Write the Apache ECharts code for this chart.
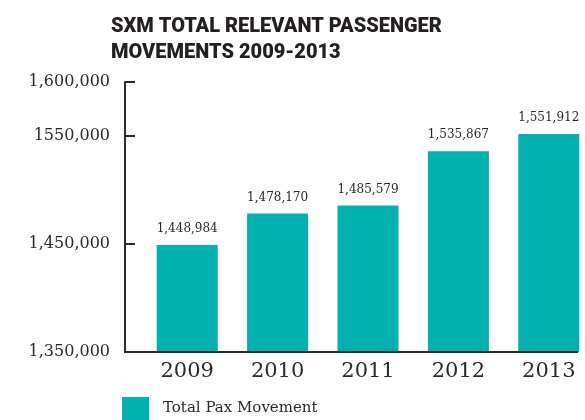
<!DOCTYPE html>
<html>
<head>
<meta charset="utf-8">
<script src="https://cdn.jsdelivr.net/npm/echarts@6/dist/echarts.min.js"></script>
<style>
  html, body { margin: 0; padding: 0; background: #fff; }
  #chart { width: 585px; height: 420px; }
</style>
</head>
<body>
<div id="chart"></div>
<script>
// Passenger movements per year
const years = ['2009', '2010', '2011', '2012', '2013'];
const paxMovements = [1448984, 1478170, 1485579, 1535867, 1551912];

// Y-axis labels as printed, keyed by value
const yTickValues = [1350000, 1450000, 1550000, 1600000];
const yTickLabels = ['1,350,000', '1,450,000', '1550,000', '1,600,000'];
const yTickMarks = [1450000, 1550000, 1600000];

const seriesName = 'Total Pax Movement';
const titleText = 'SXM TOTAL RELEVANT PASSENGER\nMOVEMENTS 2009-2013';

const TEAL = '#00b1ae';
const INK = '#2a2a2a';
const SERIF = '"DejaVu Serif", "Liberation Serif", serif';

const GRID_LEFT = 142, GRID_TOP = 82, GRID_BOTTOM = 68, GRID_WIDTH = 452, AXIS_OFFSET = 17;
const BASE_Y = 420 - GRID_BOTTOM;

const fmt = v => v.toLocaleString('en-US');

const chart = echarts.init(document.getElementById('chart'));
chart.setOption({
  animation: false,
  backgroundColor: '#fff',
  title: {
    text: titleText,
    left: 106,
    top: 9,
    textStyle: {
      fontFamily: 'Roboto, "DejaVu Sans", sans-serif',
      fontWeight: 900,
      fontSize: 20,
      lineHeight: 26,
      color: '#231f20'
    }
  },
  legend: {
    data: [seriesName],
    left: 117,
    top: 392,
    itemWidth: 27,
    itemHeight: 23,
    icon: 'rect',
    textStyle: { fontFamily: SERIF, fontSize: 15, color: INK, padding: [0, 0, 0, 9] }
  },
  grid: {
    left: GRID_LEFT, width: GRID_WIDTH, top: GRID_TOP, bottom: GRID_BOTTOM,
    containLabel: false, outerBoundsMode: 'none'
  },
  xAxis: {
    type: 'category',
    data: years,
    axisLine: { show: false },
    axisTick: { show: false },
    axisLabel: { fontFamily: SERIF, fontSize: 21, color: INK, margin: 9 }
  },
  yAxis: {
    type: 'value',
    min: 1350000,
    max: 1600000,
    interval: 50000,
    offset: AXIS_OFFSET,
    splitLine: { show: false },
    axisLine: { show: true, lineStyle: { color: INK, width: 2 } },
    axisTick: {
      show: true,
      inside: true,
      length: 10,
      customValues: yTickMarks,
      lineStyle: { color: INK, width: 2 }
    },
    axisLabel: {
      customValues: yTickValues,
      fontFamily: SERIF,
      fontSize: 16,
      color: INK,
      margin: 15,
      formatter: v => {
        const i = yTickValues.indexOf(v);
        return i >= 0 ? yTickLabels[i] : '';
      }
    }
  },
  graphic: [{
    // baseline running from the y-axis to the right end of the last bar
    type: 'rect',
    left: GRID_LEFT - AXIS_OFFSET - 1,
    top: BASE_Y - 1,
    shape: { x: 0, y: 0, width: 578 - (GRID_LEFT - AXIS_OFFSET - 1), height: 2 },
    style: { fill: INK },
    z: 10
  }],
  series: [{
    name: seriesName,
    type: 'bar',
    data: paxMovements,
    barWidth: 61,
    itemStyle: { color: TEAL },
    label: {
      show: true,
      position: 'top',
      distance: 10,
      fontFamily: SERIF,
      fontSize: 12,
      color: INK,
      formatter: p => fmt(p.value)
    }
  }]
});
</script>
</body>
</html>
